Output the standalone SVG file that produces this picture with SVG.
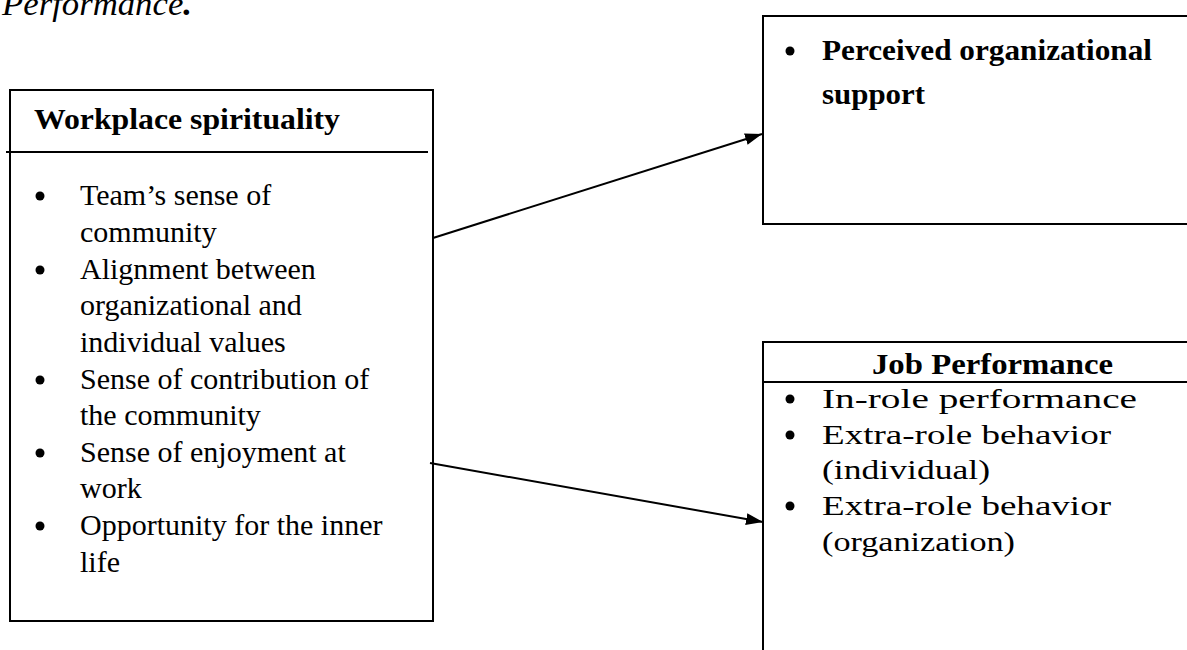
<svg xmlns="http://www.w3.org/2000/svg" width="1187" height="650" viewBox="0 0 1187 650">
<style>
.box{fill:none;stroke:#000;stroke-width:2}
.ln{fill:none;stroke:#000;stroke-width:2}
.t{font-family:"Liberation Serif",serif;font-size:30px;fill:#000}
.b{font-weight:bold}
.r{font-family:"Liberation Serif",serif;font-size:28px;fill:#000}
.rb{font-family:"Liberation Serif",serif;font-size:29px;font-weight:bold;fill:#000}
.bul{fill:#000}
</style>
<defs>
<marker id="ah" viewBox="0 0 10 10" refX="10" refY="5" markerWidth="17" markerHeight="12" orient="auto" markerUnits="userSpaceOnUse" preserveAspectRatio="none">
<path d="M0,0 L10,5 L0,10 Z" fill="#000"/>
</marker>
</defs>
<rect width="1187" height="650" fill="#fff"/>
<text x="2" y="15" font-family="Liberation Serif, serif" font-size="34" font-style="italic" textLength="190" lengthAdjust="spacingAndGlyphs">Performance<tspan font-weight="bold">.</tspan></text>

<g id="workplace">
<rect class="box" x="10" y="90" width="423" height="531"/>
<line class="ln" x1="6" y1="152" x2="428" y2="152"/>
<text class="t b" x="34" y="129" textLength="306" lengthAdjust="spacingAndGlyphs">Workplace spirituality</text>
<g class="bul">
<circle cx="40" cy="196" r="4.5"/>
<circle cx="40" cy="270" r="4.5"/>
<circle cx="40" cy="380" r="4.5"/>
<circle cx="40" cy="453" r="4.5"/>
<circle cx="40" cy="526" r="4.5"/>
</g>
<text class="t" x="80" y="205">Team’s sense of</text>
<text class="t" x="80" y="242">community</text>
<text class="t" x="80" y="279">Alignment between</text>
<text class="t" x="80" y="315">organizational and</text>
<text class="t" x="80" y="352">individual values</text>
<text class="t" x="80" y="389">Sense of contribution of</text>
<text class="t" x="80" y="425">the community</text>
<text class="t" x="80" y="462">Sense of enjoyment at</text>
<text class="t" x="80" y="498">work</text>
<text class="t" x="80" y="535">Opportunity for the inner</text>
<text class="t" x="80" y="572">life</text>
</g>

<g id="pos">
<rect class="box" x="763" y="16" width="440" height="208"/>
<circle class="bul" cx="790" cy="51" r="4.5"/>
<text class="rb" x="822" y="60" textLength="330" lengthAdjust="spacingAndGlyphs">Perceived organizational</text>
<text class="rb" x="822" y="104" textLength="103" lengthAdjust="spacingAndGlyphs">support</text>
</g>

<g id="jobperf">
<rect class="box" x="763" y="342" width="440" height="320"/>
<line class="ln" x1="763" y1="382" x2="1187" y2="382"/>
<text class="rb" x="872" y="374" textLength="241" lengthAdjust="spacingAndGlyphs">Job Performance</text>
<g class="bul">
<circle cx="790" cy="399" r="4.5"/>
<circle cx="790" cy="435" r="4.5"/>
<circle cx="790" cy="506" r="4.5"/>
</g>
<text class="r" x="822" y="408" textLength="315" lengthAdjust="spacingAndGlyphs">In-role performance</text>
<text class="r" x="822" y="444" textLength="289" lengthAdjust="spacingAndGlyphs">Extra-role behavior</text>
<text class="r" x="822" y="479" textLength="168" lengthAdjust="spacingAndGlyphs">(individual)</text>
<text class="r" x="822" y="515" textLength="289" lengthAdjust="spacingAndGlyphs">Extra-role behavior</text>
<text class="r" x="822" y="551" textLength="193" lengthAdjust="spacingAndGlyphs">(organization)</text>
</g>

<g id="connectors">
<line class="ln" x1="433" y1="238" x2="762" y2="134" marker-end="url(#ah)" stroke-width="1.8"/>
<line class="ln" x1="430" y1="463" x2="763" y2="522" marker-end="url(#ah)" stroke-width="1.8"/>
</g>
</svg>
